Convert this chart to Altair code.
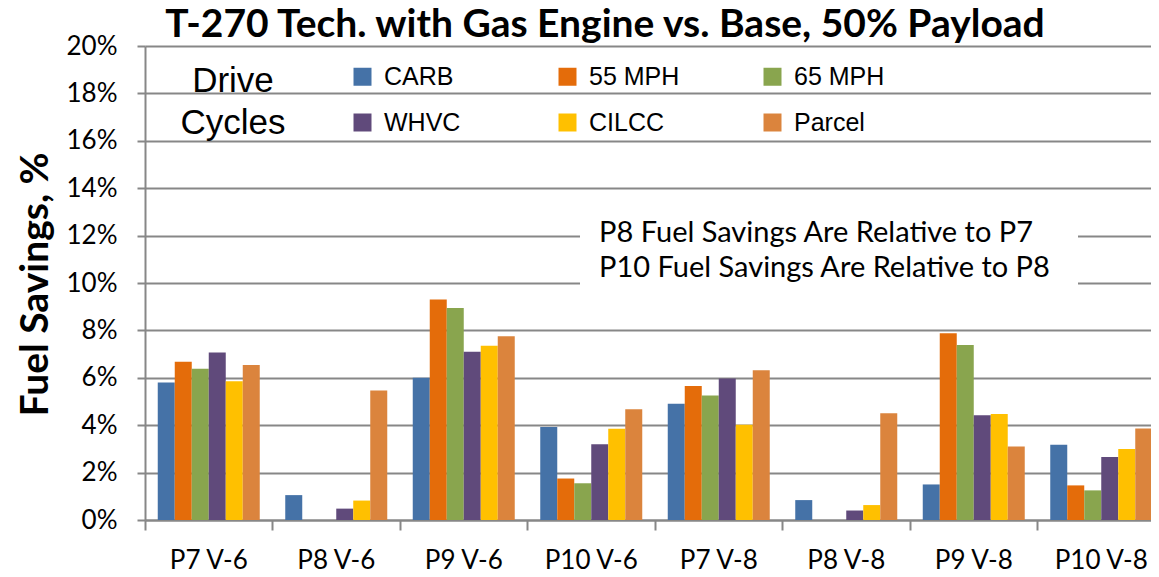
import altair as alt
import pandas as pd

categories = ["P7 V-6", "P8 V-6", "P9 V-6", "P10 V-6", "P7 V-8", "P8 V-8", "P9 V-8", "P10 V-8"]
series = ["CARB", "55 MPH", "65 MPH", "WHVC", "CILCC", "Parcel"]
colors = ["#4572A7", "#E46C0A", "#89A54E", "#604A7B", "#FFC000", "#DB843D"]

# Fuel savings, percent
carb = [5.80, 1.05, 6.00, 3.92, 4.90, 0.84, 1.50, 3.17]
mph55 = [6.68, 0.00, 9.30, 1.75, 5.65, 0.00, 7.88, 1.46]
mph65 = [6.38, 0.00, 8.95, 1.55, 5.25, 0.00, 7.38, 1.25]
whvc = [7.07, 0.48, 7.10, 3.20, 5.97, 0.40, 4.42, 2.66]
cilcc = [5.85, 0.82, 7.35, 3.85, 4.02, 0.63, 4.47, 3.00]
parcel = [6.54, 5.46, 7.75, 4.67, 6.32, 4.50, 3.10, 3.86]

y_ticks = [0, 0.02, 0.04, 0.06, 0.08, 0.10, 0.12, 0.14, 0.16, 0.18, 0.20]
chart_title = "T-270 Tech. with Gas Engine vs. Base, 50% Payload"
notes = ["P8 Fuel Savings Are Relative to P7", "P10 Fuel Savings Are Relative to P8"]

values = {"CARB": carb, "55 MPH": mph55, "65 MPH": mph65,
          "WHVC": whvc, "CILCC": cilcc, "Parcel": parcel}
rows = []
for s in series:
    for c, v in zip(categories, values[s]):
        rows.append({"category": c, "series": s, "value": v / 100.0})
df = pd.DataFrame(rows)

GRID = "#878787"
FONT = "Lato"
LEG_FONT = "Liberation Sans"

bars = alt.Chart(df).mark_bar().encode(
    x=alt.X("category:N", sort=categories,
            scale=alt.Scale(type="band", domain=categories, range=[0, 1020],
                            paddingInner=0.2, paddingOuter=0.1),
            axis=alt.Axis(title=None, orient="bottom", labelAngle=0, labelFont=FONT, labelFontSize=26,
                          labelColor="black", labelPadding=27, ticks=False, domain=False, grid=False)),
    xOffset=alt.XOffset("series:N", sort=series,
                        scale=alt.Scale(domain=series, paddingInner=0, paddingOuter=0)),
    y=alt.Y("value:Q", scale=alt.Scale(domain=[0, 0.2], nice=False, zero=True),
            axis=alt.Axis(title="Fuel Savings, %", values=y_ticks, format=".0%",
                          labelFont=FONT, labelFontSize=26, labelColor="black", labelPadding=20,
                          tickSize=8, tickColor=GRID, tickWidth=2,
                          domain=True, domainColor=GRID, domainWidth=2,
                          grid=True, gridColor=GRID, gridWidth=2,
                          titleFont=FONT, titleFontSize=39, titleFontWeight="bold", titleColor="black",
                          titleAngle=-90, titleX=-98, titleY=238, titleBaseline="alphabetic",
                          titleAlign="center")),
    color=alt.Color("series:N", sort=series,
                    scale=alt.Scale(domain=series, range=colors),
                    legend=alt.Legend(
                        title=["Drive", "Cycles"], orient="none", legendX=35, legendY=18,
                        direction="horizontal", columns=3, gridAlign="all",
                        symbolType="square", symbolSize=324, symbolStrokeWidth=0, symbolOpacity=1,
                        labelFont=LEG_FONT, labelFontSize=25, labelColor="black", labelOffset=9,
                        labelLimit=300, columnPadding=80, rowPadding=20,
                        titleOrient="left", titleFont=LEG_FONT, titleFontSize=35,
                        titleFontWeight="normal", titleColor="black", titleLineHeight=42,
                        titleAlign="center", titlePadding=11, titleBaseline="top", titleAnchor="start",
                        padding=0, offset=0)),
)

ticks_layer = alt.Chart(df).mark_bar(opacity=0).encode(
    x=alt.X("category:N", sort=categories,
            scale=alt.Scale(type="band", domain=categories, range=[0, 1020],
                            paddingInner=0, paddingOuter=0),
            axis=alt.Axis(title=None, orient="bottom", labels=False, ticks=True, tickSize=10,
                          tickColor=GRID, tickWidth=2, bandPosition=0,
                          domain=True, domainColor=GRID, domainWidth=2, grid=False)),
    y=alt.value(0),
    y2=alt.value(0),
)

note_df = pd.DataFrame({"k": [0]})
title_mark = alt.Chart(note_df).mark_text(align="center", baseline="alphabetic", font=FONT,
                                          fontSize=39, fontWeight="bold", color="black").encode(
    x=alt.value(460), y=alt.value(-9), text=alt.value(chart_title))
note_bg = alt.Chart(note_df).mark_rect(color="white").encode(
    x=alt.value(435), x2=alt.value(933), y=alt.value(154), y2=alt.value(254))
note1 = alt.Chart(note_df).mark_text(align="left", baseline="alphabetic", font=FONT,
                                     fontSize=29, color="black").encode(
    x=alt.value(454), y=alt.value(196), text=alt.value(notes[0]))
note2 = alt.Chart(note_df).mark_text(align="left", baseline="alphabetic", font=FONT,
                                     fontSize=29, color="black").encode(
    x=alt.value(454), y=alt.value(231), text=alt.value(notes[1]))

chart = alt.layer(bars, ticks_layer, note_bg, note1, note2, title_mark).resolve_scale(
    x="independent").resolve_axis(x="independent").properties(
    width=1006, height=474,
    padding={"left": 137, "top": 38, "right": 0, "bottom": 55},
    autosize="none",
    background="white",
).configure_view(stroke=None)

chart.save("out.html", embed_options={"renderer": "svg", "actions": False})
